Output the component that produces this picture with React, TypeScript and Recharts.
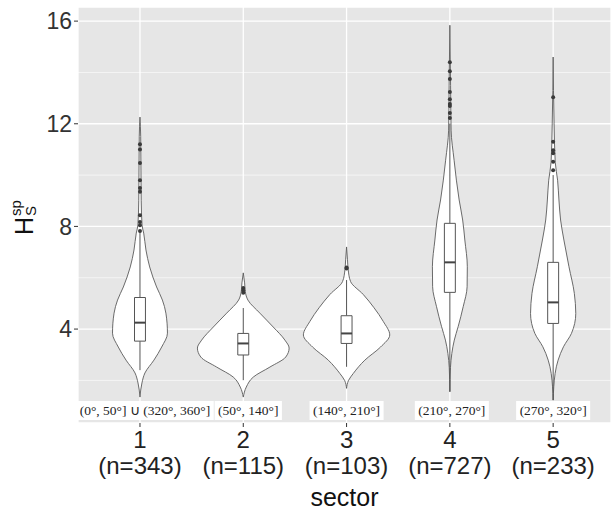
import React from "react";
import {
  Area,
  CartesianGrid,
  ComposedChart,
  Label,
  ReferenceArea,
  ReferenceLine,
  Scatter,
  XAxis,
  YAxis,
} from "recharts";

const sectors = [1, 2, 3, 4, 5];
const counts = [343, 115, 103, 727, 233];
const ranges = [
  "(0°, 50°] ∪ (320°, 360°]",
  "(50°, 140°]",
  "(140°, 210°]",
  "(210°, 270°]",
  "(270°, 320°]",
];
const yTicks = [4, 8, 12, 16];
const yMinor = [2, 6, 10, 14];

// violin outlines: [H value, half width in sector units]
const violin1 = [
  [1.35, 0], [1.9, 0.019], [2.29, 0.048], [2.79, 0.135], [3.3, 0.21], [3.84, 0.266],
  [4.62, 0.251], [5.13, 0.217], [5.64, 0.161], [6.42, 0.094], [7.08, 0.058], [7.74, 0.036],
  [8.05, 0.02], [9.0, 0.012], [10.5, 0.009], [11.5, 0.007], [12.26, 0],
];
const violin2 = [
  [1.35, 0], [1.74, 0.029], [2.13, 0.097], [2.52, 0.258], [2.91, 0.411], [3.26, 0.444],
  [3.57, 0.403], [4.08, 0.29], [4.62, 0.161], [5.13, 0.045], [5.45, 0.02], [5.8, 0.013], [6.19, 0],
];
const violin3 = [
  [1.69, 0], [2.0, 0.019], [2.27, 0.065], [2.79, 0.177], [3.3, 0.329], [3.77, 0.418],
  [4.3, 0.355], [4.83, 0.266], [5.35, 0.161], [5.85, 0.039], [6.3, 0.016], [6.7, 0.009], [7.2, 0],
];
const violin4 = [
  [1.56, 0], [2.5, 0.006], [3.05, 0.019], [3.57, 0.043], [4.09, 0.08], [4.87, 0.129],
  [5.65, 0.167], [6.43, 0.169], [7.47, 0.145], [8.25, 0.124], [9.03, 0.09], [10.58, 0.041],
  [11.75, 0.012], [13.5, 0.007], [15.84, 0],
];
const violin5 = [
  [1.23, 0], [2.27, 0.019], [2.79, 0.048], [3.31, 0.1], [3.83, 0.177], [4.61, 0.219],
  [5.39, 0.205], [6.43, 0.153], [7.47, 0.104], [8.25, 0.072], [9.03, 0.056], [9.8, 0.043],
  [10.5, 0.02], [12.0, 0.009], [14.6, 0],
];

const q1 = [3.53, 2.99, 3.44, 5.43, 4.22];
const medians = [4.25, 3.44, 3.83, 6.6, 5.04];
const q3 = [5.23, 3.83, 4.52, 8.12, 6.6];
const whiskerLow = [2.4, 2.01, 2.53, 1.56, 1.23];
const whiskerHigh = [7.78, 4.82, 5.91, 12.0, 10.0];

const outliers1 = [11.2, 11.0, 10.47, 9.8, 9.5, 9.35, 8.44, 8.17, 8.05, 7.82];
const outliers2 = [5.6, 5.5, 5.42];
const outliers3 = [6.4, 6.36];
const outliers4 = [14.4, 14.05, 13.74, 13.24, 12.96, 12.77, 12.69, 12.42, 12.22];
const outliers5 = [13.03, 11.3, 10.97, 10.85, 10.52, 10.19];

const violins = [violin1, violin2, violin3, violin4, violin5];
const outliers = [outliers1, outliers2, outliers3, outliers4, outliers5];

const rows = violins.flatMap((v, i) =>
  v.map(([y, w]) => {
    const r: any = { y };
    sectors.forEach((s, j) => {
      r["v" + s] = j === i ? [s - w, s + w] : [null, null];
    });
    return r;
  })
);
const points = outliers.flatMap((o, i) => o.map((y) => ({ x: sectors[i], y })));

const SANS = "'Liberation Sans', Arial, Helvetica, sans-serif";
const SERIF = "'Liberation Serif', 'Times New Roman', serif";
const BOX_W = 0.053;
const LABEL_DX = [5, 5, 0, 2, 0];
const OUTLINE = "#5a5a5a";

let ctx: CanvasRenderingContext2D | null = null;
function textWidth(s: string, font: string) {
  if (!ctx) ctx = document.createElement("canvas").getContext("2d");
  if (!ctx) return s.length * 6;
  ctx.font = font;
  return ctx.measureText(s).width;
}

function SectorTick(props: any) {
  const { x, y, payload } = props;
  const i = sectors.indexOf(payload.value);
  const w = textWidth(ranges[i], `13.5px ${SERIF}`) + 7;
  const cx = x + LABEL_DX[i];
  return (
    <g>
      <rect x={cx - w / 2} y={y - 28} width={w} height={19} fill="#ffffff" />
      <text x={cx} y={y - 14} textAnchor="middle" fontFamily={SERIF} fontSize={13.5} fill="#222">
        {ranges[i]}
      </text>
      <text x={x} y={y + 19} textAnchor="middle" fontFamily={SANS} fontSize={24} fill="#222">
        {payload.value}
      </text>
      <text x={x} y={y + 45} textAnchor="middle" fontFamily={SANS} fontSize={24} fill="#222">
        {`(n=${counts[i]})`}
      </text>
    </g>
  );
}

function YTitle() {
  return (
    <g transform="translate(33, 235) rotate(-90)" fontFamily={SANS} fill="#111">
      <text x={0} y={0} fontSize={25}>H</text>
      <text x={19} y={3} fontSize={15}>S</text>
      <text x={19} y={-12} fontSize={15}>sp</text>
    </g>
  );
}

export default function App() {
  return (
    <div style={{ position: "absolute", left: 0, top: 0, background: "#fff" }}>
      <ComposedChart
        width={611}
        height={513}
        data={rows}
        layout="vertical"
        margin={{ top: 7, right: 0, bottom: 0, left: 0 }}
      >
        <CartesianGrid fill="#e6e6e6" stroke="#ffffff" strokeWidth={1.3} />
        {yMinor.map((v) => (
          <ReferenceLine key={"m" + v} y={v} stroke="#ffffff" strokeWidth={0.6} zIndex={-50} />
        ))}
        <XAxis
          type="number"
          dataKey="x"
          domain={[0.4, 5.56]}
          allowDataOverflow
          ticks={sectors}
          interval={0}
          height={90}
          axisLine={false}
          tickSize={4}
          tickLine={{ stroke: "#333" }}
          tick={<SectorTick />}
        >
          <Label value="sector" position="insideBottom" offset={7} fontSize={25} fill="#111" fontFamily={SANS} />
        </XAxis>
        <YAxis
          type="number"
          dataKey="y"
          domain={[0.34, 16.55]}
          allowDataOverflow
          reversed
          ticks={yTicks}
          interval={0}
          width={78}
          axisLine={false}
          tickSize={4}
          tickMargin={2}
          tickLine={{ stroke: "#333" }}
          tick={{ fontSize: 23, fill: "#333", fontFamily: SANS }}
        >
          <Label content={() => <YTitle />} />
        </YAxis>
        {sectors.map((s) => (
          <Area
            key={"v" + s}
            dataKey={"v" + s}
            type="monotone"
            connectNulls
            fill="#ffffff"
            fillOpacity={1}
            stroke={OUTLINE}
            strokeWidth={0.9}
            isAnimationActive={false}
            activeDot={false}
            dot={false}
          />
        ))}
        {sectors.map((s, i) => (
          <ReferenceLine
            key={"wl" + s}
            segment={[{ x: s, y: whiskerLow[i] }, { x: s, y: q1[i] }]}
            stroke="#555"
            strokeWidth={1}
            zIndex={400}
          />
        ))}
        {sectors.map((s, i) => (
          <ReferenceLine
            key={"wh" + s}
            segment={[{ x: s, y: q3[i] }, { x: s, y: whiskerHigh[i] }]}
            stroke="#555"
            strokeWidth={1}
            zIndex={400}
          />
        ))}
        {sectors.map((s, i) => (
          <ReferenceArea
            key={"b" + s}
            x1={s - BOX_W}
            x2={s + BOX_W}
            y1={q1[i]}
            y2={q3[i]}
            fill="#ffffff"
            fillOpacity={1}
            stroke="#555"
            strokeWidth={1}
            zIndex={410}
          />
        ))}
        {sectors.map((s, i) => (
          <ReferenceLine
            key={"md" + s}
            segment={[{ x: s - BOX_W, y: medians[i] }, { x: s + BOX_W, y: medians[i] }]}
            stroke="#444"
            strokeWidth={2}
            zIndex={420}
          />
        ))}
        <Scatter
          data={points}
          isAnimationActive={false}
          zIndex={600}
          shape={(p: any) => <circle cx={p.cx} cy={p.cy} r={2} fill="#3a3a3a" />}
        />
      </ComposedChart>
    </div>
  );
}
